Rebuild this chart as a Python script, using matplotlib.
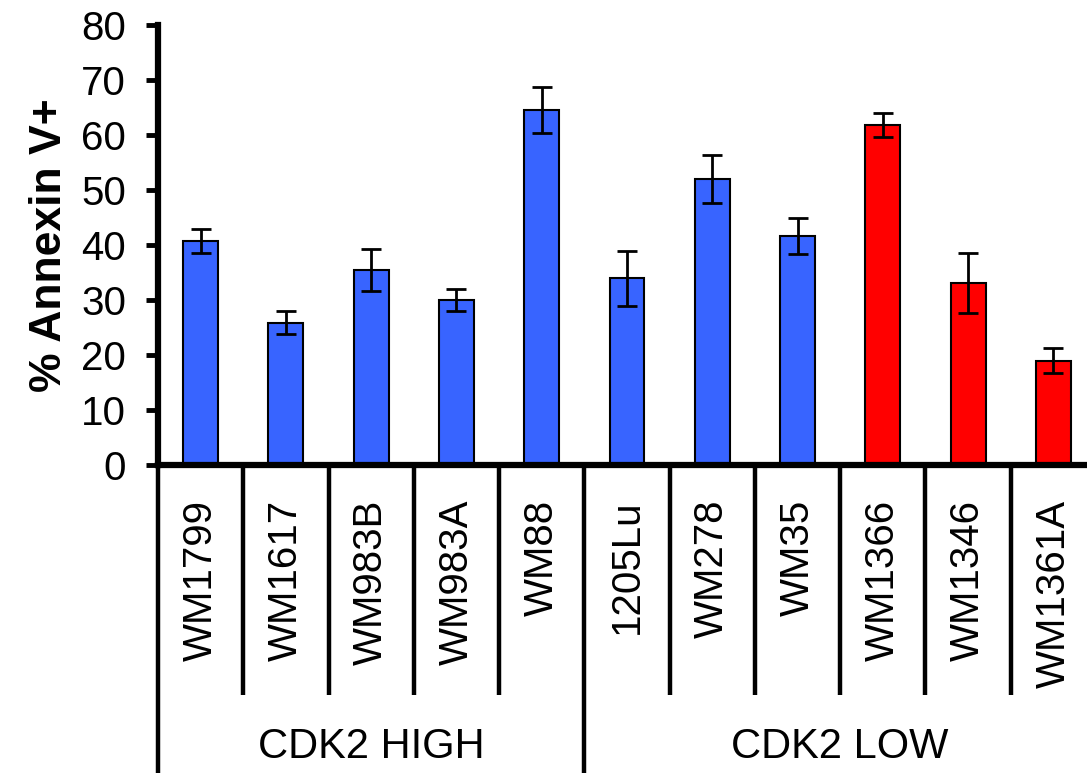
import numpy as np
import matplotlib
matplotlib.use("Agg")
import matplotlib.pyplot as plt
from matplotlib import transforms

plt.rcParams['font.family'] = ['Liberation Sans', 'DejaVu Sans']

cell_lines = ['WM1799', 'WM1617', 'WM983B', 'WM983A', 'WM88',
              '1205Lu', 'WM278', 'WM35', 'WM1366', 'WM1346', 'WM1361A']
annexin = [40.7, 25.9, 35.4, 30.0, 64.5, 34.0, 52.0, 41.6, 61.8, 33.1, 19.0]
errors = [2.2, 2.1, 3.8, 2.0, 4.2, 5.0, 4.4, 3.3, 2.2, 5.5, 2.2]
bar_colors = ['#3864ff'] * 8 + ['#ff0000'] * 3
groups = ['CDK2 HIGH', 'CDK2 LOW']
group_sizes = [5, 6]

W, H = 1087, 773
fig = plt.figure(figsize=(W / 100, H / 100), dpi=100)
ax = fig.add_axes([158 / W, 308 / H, 938 / W, 440 / H])

x = np.arange(len(cell_lines))
ax.bar(x, annexin, width=0.41, color=bar_colors, edgecolor='black', linewidth=1.5, zorder=2)
ax.errorbar(x, annexin, yerr=errors, fmt='none', ecolor='black',
            elinewidth=2, capsize=7, capthick=2, zorder=3)

ax.set_xlim(-0.5, len(cell_lines) - 0.5)
ax.set_ylim(0, 80)
ax.set_yticks(range(0, 81, 10))
ax.tick_params(axis='y', labelsize=29, length=9, width=3.5, pad=14)
ax.set_xticks(x)
ax.set_xticklabels(cell_lines, rotation=90, fontsize=29)
ax.tick_params(axis='x', length=0, pad=25)

for s in ['top', 'right']:
    ax.spines[s].set_visible(False)
for s in ['left', 'bottom']:
    ax.spines[s].set_linewidth(4.5)

ax.set_ylabel('% Annexin V+', fontsize=32, fontweight='bold', labelpad=8)

# bracket lines under the axis
trans = transforms.blended_transform_factory(ax.transData, ax.transAxes)
edges = np.cumsum([0] + group_sizes) - 0.5
for k in range(len(cell_lines) + 1):
    xe = k - 0.5
    if xe in edges[:-1]:
        y1 = -0.72
    elif xe == edges[-1]:
        continue
    else:
        y1 = -0.523
    ax.plot([xe, xe], [0, y1], color='black', lw=3.2, transform=trans,
            clip_on=False, solid_capstyle='butt')

for g, lo, hi in zip(groups, edges[:-1], edges[1:]):
    ax.text((lo + hi) / 2, -0.641, g, transform=trans, ha='center', va='center',
            fontsize=30)

fig.savefig('out.png', dpi=100)
